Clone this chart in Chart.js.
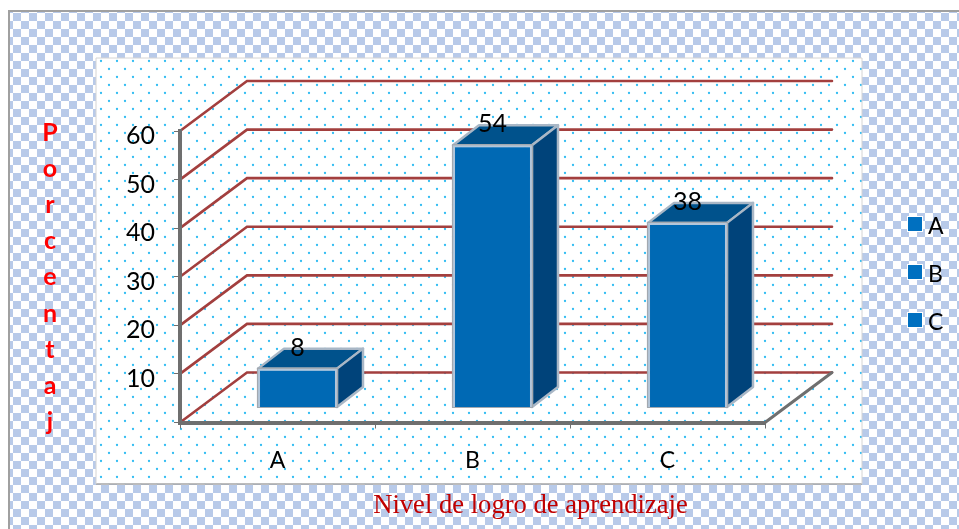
<!DOCTYPE html>
<html><head><meta charset="utf-8">
<style>html,body{margin:0;padding:0;background:#fff}canvas{display:block;filter:blur(0.35px)}</style>
<script src="https://cdn.jsdelivr.net/npm/chart.js@4/dist/chart.umd.js"></script>
</head><body><canvas id="c" width="959" height="529"></canvas>
<script>
const categories = ['A','B','C'];
const values = [8,54,38];
const yTickLabels = [10,20,30,40,50,60];
const yAxisLetters = ['P','o','r','c','e','n','t','a','j'];
const xAxisTitle = 'Nivel de logro de aprendizaje';

const W=959,H=529;
const wallDX=67, wallDY=-50;
const barDX=20, barDY=-15, sideDX=26, sideDY=-20;
const sans='Lato, "Open Sans", sans-serif';

function patt(ctx,size,draw){
  const c=document.createElement('canvas');c.width=c.height=size;
  draw(c.getContext('2d'));return ctx.createPattern(c,'repeat');
}
function dot(g,x,y){g.beginPath();g.arc(x,y,1.15,0,Math.PI*2);g.fill();}
const walls={id:'walls',beforeDraw(chart){
  const ctx=chart.ctx,{x,y}=chart.scales;
  ctx.save();
  ctx.fillStyle='#fff';ctx.fillRect(0,0,W,H);
  // checker
  ctx.save();ctx.translate(13,13);
  ctx.fillStyle=patt(ctx,16,g=>{g.fillStyle='#fff';g.fillRect(0,0,16,16);g.fillStyle='#b8cae9';g.fillRect(0,0,8,8);g.fillRect(8,8,8,8);});
  ctx.fillRect(-5,-3,W,H);ctx.restore();
  ctx.strokeStyle='#a0a0a0';ctx.lineWidth=2;
  ctx.beginPath();ctx.moveTo(9,H);ctx.lineTo(9,11);ctx.lineTo(W,11);ctx.stroke();
  // panel with dots
  ctx.fillStyle='#fff';ctx.fillRect(96,58,766,426);
  ctx.save();ctx.beginPath();ctx.rect(97,59,765,425);ctx.clip();ctx.translate(109,53);
  ctx.fillStyle=patt(ctx,16,g=>{g.fillStyle='#33bdf2';
    dot(g,8,8);dot(g,0,0);dot(g,16,0);dot(g,0,16);dot(g,16,16);});
  ctx.fillRect(-20,-10,W,H);ctx.restore();
  ctx.strokeStyle='#a6a6a6';ctx.lineWidth=1.5;
  ctx.beginPath();ctx.moveTo(96,484);ctx.lineTo(862,484);ctx.stroke();
  ctx.strokeStyle='#d4d4d4';ctx.lineWidth=1;
  ctx.beginPath();ctx.moveTo(96,484);ctx.lineTo(96,58);ctx.lineTo(862,58);ctx.lineTo(862,484);ctx.stroke();
  // wall grid
  ctx.strokeStyle='#a33f3e';ctx.lineWidth=2.6;ctx.lineCap='round';
  y.ticks.forEach(t=>{const py=y.getPixelForValue(t.value);
    ctx.beginPath();ctx.moveTo(x.left,py);ctx.lineTo(x.left+wallDX,py+wallDY);ctx.lineTo(x.right+wallDX,py+wallDY);ctx.stroke();});
  // floor edge
  const p0=y.getPixelForValue(0);
  ctx.strokeStyle='#6f6f6f';ctx.lineWidth=3;
  ctx.beginPath();ctx.moveTo(x.right,p0);ctx.lineTo(x.right+wallDX,p0+wallDY);ctx.stroke();
  ctx.restore();
}};
const bars3d={id:'bars3d',
  beforeDatasetDraw(chart,args){
    const ctx=chart.ctx;ctx.save();ctx.translate(barDX,barDY);
    chart.getDatasetMeta(args.index).data.forEach(el=>{
      const l=el.x-el.width/2,r=el.x+el.width/2,t=el.y,b=el.base;
      ctx.lineJoin='round';ctx.strokeStyle='#a9b7c6';ctx.lineWidth=2.5;
      ctx.fillStyle='#00528c';ctx.beginPath();
      ctx.moveTo(l,t);ctx.lineTo(l+sideDX,t+sideDY);ctx.lineTo(r+sideDX,t+sideDY);ctx.lineTo(r,t);ctx.closePath();ctx.fill();ctx.stroke();
      ctx.fillStyle='#00437a';ctx.beginPath();
      ctx.moveTo(r,t);ctx.lineTo(r+sideDX,t+sideDY);ctx.lineTo(r+sideDX,b+sideDY);ctx.lineTo(r,b);ctx.closePath();ctx.fill();ctx.stroke();
    });
  },
  afterDatasetDraw(chart,args){
    const ctx=chart.ctx;
    chart.getDatasetMeta(args.index).data.forEach((el,i)=>{
      ctx.strokeStyle='#a3a9b0';ctx.lineWidth=1.2;
      ctx.strokeRect(el.x-el.width/2-0.5,el.y-0.5,el.width+1,el.base-el.y+1);
      ctx.fillStyle='#000';ctx.font='25px '+sans;ctx.textAlign='center';ctx.textBaseline='middle';
      ctx.fillText(String(values[i]),el.x,el.y-21);
    });
    ctx.restore();
  }
};
const texts={id:'texts',afterDraw(chart){
  const ctx=chart.ctx;ctx.save();
  ctx.textBaseline='middle';
  // axis title
  ctx.fillStyle='#c00000';ctx.textAlign='center';ctx.font='26.6px "Liberation Serif", serif';
  ctx.fillText(xAxisTitle,530.5,506);
  // vertical letters
  ctx.fillStyle='#ff0000';ctx.font='bold 25px '+sans;
  yAxisLetters.forEach((s,i)=>ctx.fillText(s,50,133+i*36.1));
  // legend
  ctx.textAlign='left';ctx.font='23px '+sans;
  categories.forEach((s,i)=>{const cy=224+i*48;
    ctx.fillStyle='#fff';ctx.fillRect(907,cy-8,16,16);
    ctx.fillStyle='#0070c0';ctx.fillRect(908,cy-7,14,14);
    ctx.fillStyle='#000';ctx.fillText(s,928,cy+3);});
  ctx.restore();
}};
new Chart(document.getElementById('c'),{
  type:'bar',
  data:{labels:categories,datasets:[{label:'Porcentaje',data:values,backgroundColor:'#0069b4',borderColor:'#b3c6da',borderWidth:2,clip:false,categoryPercentage:1,barPercentage:0.405}]},
  plugins:[walls,bars3d,texts],
  options:{responsive:false,animation:false,
    layout:{padding:{top:131,right:194,left:0,bottom:0}},
    plugins:{legend:{display:false},tooltip:{enabled:false},title:{display:false}},
    scales:{
      x:{afterFit(s){s.height=529-131-291.5;},
        grid:{offset:true,drawOnChartArea:false,color:'#6f6f6f',tickLength:6},
        border:{color:'#6f6f6f',width:4},
        ticks:{color:'#000',font:{family:sans,size:23},padding:18}},
      y:{min:0,max:60,afterFit(s){s.width=180;},
        grid:{drawOnChartArea:false,color:'#6f6f6f',tickLength:6},
        border:{color:'#6f6f6f',width:4},
        ticks:{stepSize:10,color:'#000',font:{family:sans,size:25},padding:19,labelOffset:5,
          callback:v=>yTickLabels.includes(v)?String(v):''}}
    }}
});
</script></body></html>
